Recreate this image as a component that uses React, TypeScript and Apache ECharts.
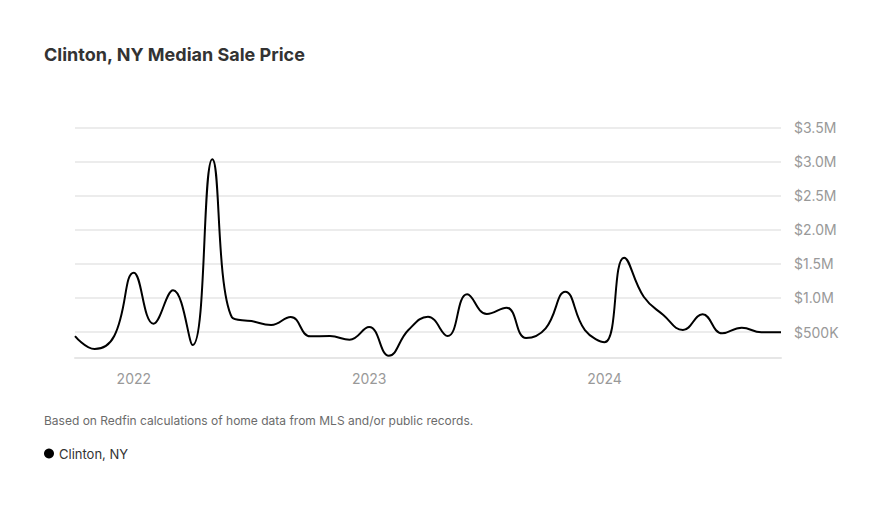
import React, { useEffect, useRef } from "react";
import * as echarts from "echarts";

const months: string[] = [
  "2021-10", "2021-11", "2021-12",
  "2022-01", "2022-02", "2022-03", "2022-04", "2022-05", "2022-06",
  "2022-07", "2022-08", "2022-09", "2022-10", "2022-11", "2022-12",
  "2023-01", "2023-02", "2023-03", "2023-04", "2023-05", "2023-06",
  "2023-07", "2023-08", "2023-09", "2023-10", "2023-11", "2023-12",
  "2024-01", "2024-02", "2024-03", "2024-04", "2024-05", "2024-06",
  "2024-07", "2024-08", "2024-09", "2024-10",
];

const medianSalePrice: number[] = [
  441000, 250000, 441000,
  1371000, 622000, 1112000, 309000, 3036000, 716000,
  660000, 603000, 720000, 437000, 441000, 387000,
  573000, 152000, 529000, 725000, 441000, 1053000,
  764000, 857000, 412000, 554000, 1092000, 529000,
  349000, 1591000, 1018000, 750000, 529000, 760000,
  480000, 563000, 496000, 496000,
];

const yTickValues: number[] = [500000, 1000000, 1500000, 2000000, 2500000, 3000000, 3500000];

const FONT = "Inter, 'Noto Sans', sans-serif";

function fmtMoney(v: number): string {
  if (v >= 1000000) return "$" + (v / 1000000).toFixed(1) + "M";
  return "$" + Math.round(v / 1000) + "K";
}

export default function App() {
  const ref = useRef<HTMLDivElement>(null);
  useEffect(() => {
    document.body.style.margin = "0";
    const chart = echarts.init(ref.current!, null, { renderer: "svg" });
    chart.setOption({
      animation: false,
      backgroundColor: "#fff",
      title: {
        text: "Clinton, NY Median Sale Price",
        left: 39,
        top: 40,
        textStyle: { fontFamily: FONT, fontSize: 18, fontWeight: 700, color: "#333" },
      },
      legend: {
        left: 39,
        top: 442,
        icon: "circle",
        itemWidth: 10,
        itemHeight: 10,
        itemGap: 6,
        textStyle: { fontFamily: FONT, fontSize: 13, color: "#333" },
        data: ["Clinton, NY"],
      },
      graphic: [
        {
          type: "text",
          left: 44,
          top: 414,
          style: {
            text: "Based on Redfin calculations of home data from MLS and/or public records.",
            font: "12px " + FONT,
            fill: "#6b6b6b",
          },
        },
      ],
      grid: { left: 75, right: 107, top: 127.5, bottom: 151.7, containLabel: false },
      xAxis: {
        type: "category",
        boundaryGap: false,
        data: months,
        axisLine: { show: true, lineStyle: { color: "#e6e6e6", width: 2 } },
        axisTick: { show: false },
        axisLabel: {
          interval: (i: number, v: string) => v.endsWith("-01"),
          formatter: (v: string) => v.slice(0, 4),
          margin: 14,
          fontFamily: FONT,
          fontSize: 14,
          color: "#999",
        },
        splitLine: { show: false },
      },
      yAxis: {
        type: "value",
        position: "right",
        min: 129000,
        max: 3500000,
        axisLine: { show: false },
        axisTick: { show: false, customValues: yTickValues },
        axisLabel: {
          customValues: yTickValues,
          formatter: (v: number) => fmtMoney(v),
          margin: 13,
          fontFamily: FONT,
          fontSize: 14,
          color: "#999",
        },
        splitLine: { show: true, lineStyle: { color: "#e6e6e6", width: 1.5 } },
      },
      series: [
        {
          name: "Clinton, NY",
          type: "line",
          data: medianSalePrice,
          smooth: 0.45,
          showSymbol: false,
          symbol: "circle",
          itemStyle: { color: "#000" },
          lineStyle: { color: "#000", width: 2 },
        },
      ],
    });
    return () => chart.dispose();
  }, []);
  return <div ref={ref} style={{ width: 888, height: 509 }} />;
}
